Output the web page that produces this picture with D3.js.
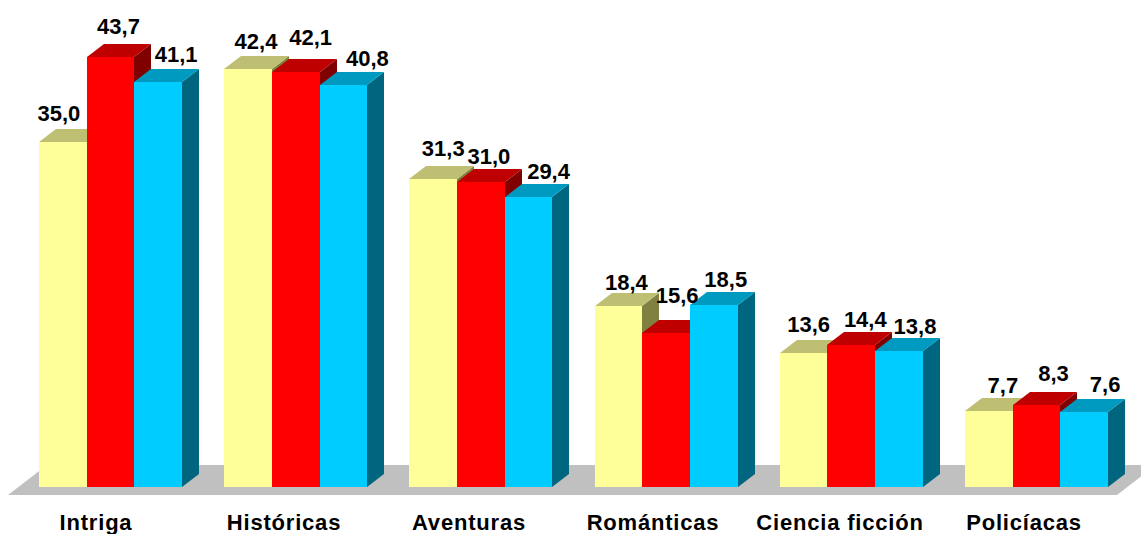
<!DOCTYPE html>
<html><head><meta charset="utf-8">
<script src="https://cdn.jsdelivr.net/npm/d3@7"></script>
<style>html,body{margin:0;padding:0;background:#fff;overflow:hidden}svg{display:block}
text{font-family:"Liberation Sans",Arial,sans-serif;font-weight:bold;fill:#000}</style>
</head><body><svg id="c" width="1141" height="534"></svg>
<script>
const categories = ["Intriga","Históricas","Aventuras","Románticas","Ciencia ficción","Policíacas"];
const seriesNames = ["A","B","C"];
const seriesA = [35.0,42.4,31.3,18.4,13.6,7.7];
const seriesB = [43.7,42.1,31.0,15.6,14.4,8.3];
const seriesC = [41.1,40.8,29.4,18.5,13.8,7.6];
const allSeries = [seriesA,seriesB,seriesC];

// layout, kept apart from the data
const faces = [
  {front:"#ffff99",top:"#bfbf73",side:"#808040"},
  {front:"#ff0000",top:"#bf0000",side:"#800000"},
  {front:"#00ccff",top:"#0099bf",side:"#006680"}
];
const depthX=17, depthY=13, base=487;
// hand-placed labels of the original: offset of each label from its bar's front-top centre
const labelNudge = [
  [[-4,-21],[8,-23],[18,-20]],
  [[8,-20],[15,-27],[24,-19]],
  [[10,-23],[8,-18],[20,-18]],
  [[8,-16],[11,-30],[12,-18]],
  [[5,-21],[14,-18],[16,-17]],
  [[14,-18],[17,-24],[21,-20]]
];
const catNudge = [-35.6,-32.8,-33,-34.2,-32.4,-33.6];

const svg=d3.select("#c");
const y=d3.scaleLinear().domain([0,50]).range([base,base-492.5]);
const x0=d3.scaleBand().domain(categories).range([39,39+185.2*6]);
const x1=d3.scaleBand().domain(seriesNames).range([0,143]);

// floor
const fl=[[8,495],[1117,495],[1156,465],[47,465]];
svg.append("polygon").attr("points",fl.map(p=>p.join(",")).join(" ")).attr("fill","#c0c0c0");

categories.forEach((c,i)=>{
  const g=svg.append("g");
  seriesNames.forEach((s,j)=>{
    const v=allSeries[j][i];
    const l=Math.round(x0(c)+x1(s)), r=Math.round(x0(c)+x1(s)+x1.bandwidth()), t=Math.round(y(v));
    const f=faces[j];
    g.append("polygon").attr("fill",f.side)
      .attr("points",[[r,t],[r+depthX,t-depthY],[r+depthX,base-depthY],[r,base]].map(p=>p.join(",")).join(" "));
    g.append("polygon").attr("fill",f.top)
      .attr("points",[[l,t],[l+depthX,t-depthY],[r+depthX,t-depthY],[r,t]].map(p=>p.join(",")).join(" "));
    g.append("rect").attr("x",l).attr("y",t).attr("width",r-l).attr("height",base-t).attr("fill",f.front);
  });
});
categories.forEach((c,i)=>{
  seriesNames.forEach((s,j)=>{
    const v=allSeries[j][i];
    const n=labelNudge[i][j];
    svg.append("text").attr("x",x0(c)+x1(s)+x1.bandwidth()/2+n[0]).attr("y",y(v)+n[1])
      .attr("text-anchor","middle").attr("font-size",22)
      .text(d3.format(".1f")(v).replace(".",","));
  });
  svg.append("text").attr("x",x0(c)+x0.bandwidth()/2+catNudge[i]).attr("y",530)
    .attr("text-anchor","middle").attr("font-size",22).style("letter-spacing","0.8px").text(c);
});
</script></body></html>
